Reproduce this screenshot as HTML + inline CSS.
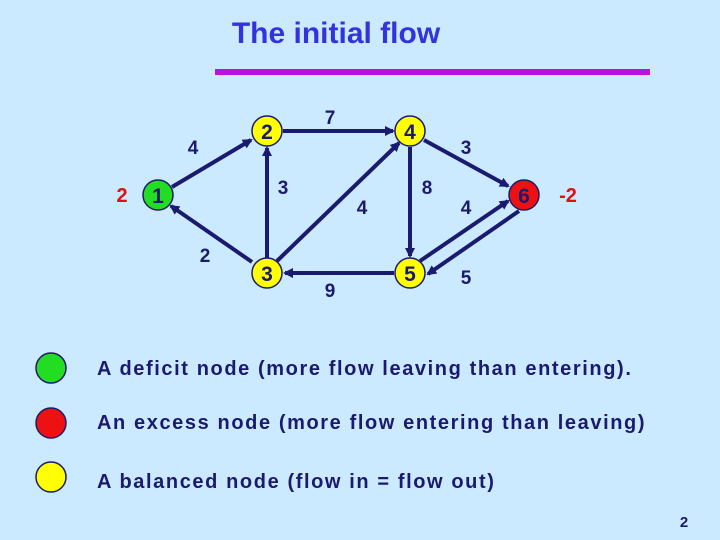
<!DOCTYPE html>
<html><head><style>
body{margin:0;background:#cceaff;}
svg{display:block}
</style></head><body>
<svg width="720" height="540" viewBox="0 0 720 540" xmlns="http://www.w3.org/2000/svg" font-family="Liberation Sans, sans-serif" font-weight="bold">
<rect width="720" height="540" fill="#cceaff"/>
<defs><marker id="a" markerWidth="10" markerHeight="10" refX="8" refY="5" orient="auto" markerUnits="userSpaceOnUse"><path d="M0,0 L10,5 L0,10 z" fill="#1a1a6e"/></marker></defs>
<text x="336" y="43" font-size="30" fill="#3333dd" text-anchor="middle" font-weight="bold">The initial flow</text>
<rect x="215" y="69" width="435" height="6" fill="#bb11dd"/>
<g stroke="#1a1a6e" stroke-width="4" marker-end="url(#a)">
<line x1="172" y1="187" x2="251" y2="140"/>
<line x1="252" y1="262" x2="171" y2="206"/>
<line x1="267" y1="258" x2="267" y2="148"/>
<line x1="283" y1="131" x2="393" y2="131"/>
<line x1="277" y1="261" x2="399" y2="143"/>
<line x1="410" y1="147" x2="410" y2="256"/>
<line x1="424" y1="140" x2="508" y2="186"/>
<line x1="420" y1="261" x2="508" y2="201"/>
<line x1="519" y1="211" x2="428" y2="274"/>
<line x1="394" y1="273" x2="285" y2="273"/>
</g>
<g stroke="#1a1a6e" stroke-width="1.5">
<circle cx="158" cy="195" r="15" fill="#22dd22"/>
<circle cx="267" cy="131" r="15" fill="#ffff00"/>
<circle cx="410" cy="131" r="15" fill="#ffff00"/>
<circle cx="267" cy="273" r="15" fill="#ffff00"/>
<circle cx="410" cy="273" r="15" fill="#ffff00"/>
<circle cx="524" cy="195" r="15" fill="#ee1111"/>
<circle cx="51" cy="368" r="15" fill="#22dd22"/>
<circle cx="51" cy="423" r="15" fill="#ee1111"/>
<circle cx="51" cy="477" r="15" fill="#ffff00"/>
</g>
<g font-size="21" fill="#1a1a6e" text-anchor="middle">
<text x="158" y="203">1</text><text x="267" y="139">2</text><text x="410" y="139">4</text>
<text x="267" y="281">3</text><text x="410" y="281">5</text><text x="524" y="203">6</text>
</g>
<g font-size="19" fill="#1a1a6e" text-anchor="middle">
<text x="193" y="154">4</text><text x="330" y="124">7</text><text x="466" y="154">3</text>
<text x="283" y="194">3</text><text x="427" y="194">8</text><text x="362" y="214">4</text>
<text x="466" y="214">4</text><text x="205" y="262">2</text><text x="330" y="297">9</text>
<text x="466" y="284">5</text>
</g>
<g font-size="20" fill="#dd1111" text-anchor="middle">
<text x="122" y="202">2</text><text x="568" y="202">-2</text>
</g>
<g font-size="20" fill="#1a1a6e" letter-spacing="1.6">
<text x="97" y="375">A deficit node (more flow leaving than entering).</text>
<text x="97" y="429">An excess node (more flow entering than leaving)</text>
<text x="97" y="488">A balanced node (flow in = flow out)</text>
</g>
<text x="684" y="527" font-size="15" fill="#1a1a6e" text-anchor="middle">2</text>
</svg>
</body></html>
